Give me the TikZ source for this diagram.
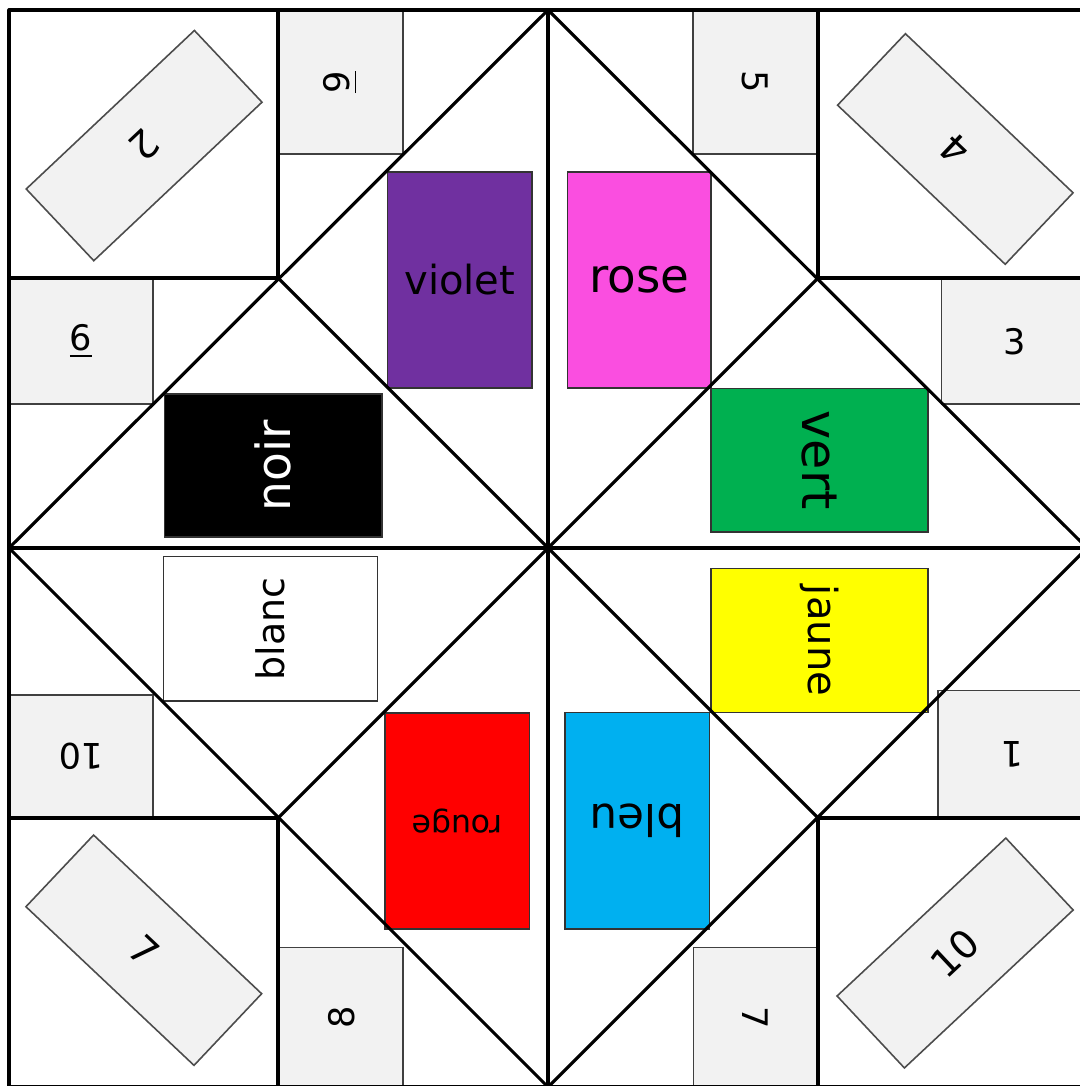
\documentclass[tikz,border=0pt]{standalone}
\usepackage{fontspec}
\setmainfont{DejaVu Sans}
\definecolor{cviolet}{HTML}{7030A0}
\definecolor{crose}{HTML}{FA4EE0}
\definecolor{cvert}{HTML}{00B050}
\definecolor{cjaune}{HTML}{FFFF00}
\definecolor{cbleu}{HTML}{00B0F0}
\definecolor{crouge}{HTML}{FF0000}
\definecolor{paper}{HTML}{F2F2F2}
\newcommand{\fsz}[1]{\fontsize{#1}{#1}\selectfont}

\begin{document}
\begin{tikzpicture}[x=0.01cm, y=-0.01cm,
    fold/.style={line width=0.9pt, line join=round},
    numbox/.style={draw=black!75, line width=0.45pt, fill=paper, inner sep=0pt, font=\fsz{10}},
    tagbox/.style={draw=black!70, line width=0.45pt, fill=paper, inner sep=0pt,
      minimum width=2.31cm, minimum height=0.985cm, font=\fsz{11}},
    colbox/.style={draw=black!80, line width=0.4pt, inner sep=0pt}]
  \useasboundingbox (0,0) rectangle (1079,1086);

  % colour flaps
  \node[colbox, fill=cviolet, minimum width=1.445cm, minimum height=2.16cm, font=\fsz{11.4}] (violet) at (459.75,280) {violet};
  \node[colbox, fill=crose, minimum width=1.435cm, minimum height=2.16cm, font=\fsz{13.3}] (rose) at (639.25,280) {rose};
  \node[colbox, fill=cvert, rotate=-90, minimum width=1.435cm, minimum height=2.17cm, font=\fsz{14}] (vert) at (819.5,460.25) {vert};
  \node[colbox, fill=cjaune, rotate=-90, minimum width=1.44cm, minimum height=2.17cm, font=\fsz{11.4}] (jaune) at (819.5,640.5) {jaune};
  \node[colbox, fill=cbleu, rotate=180, minimum width=1.445cm, minimum height=2.165cm, font=\fsz{12.4}] (bleu) at (637.25,820.75) {bleu};
  \node[colbox, fill=crouge, rotate=180, minimum width=1.445cm, minimum height=2.16cm, font=\fsz{9}] (rouge) at (457.25,821) {rouge};
  \node[colbox, fill=white, rotate=90, minimum width=1.445cm, minimum height=2.14cm, font=\fsz{10.8}] (blanc) at (270.5,628.75) {blanc};
  \node[colbox, fill=black, text=white, rotate=90, minimum width=1.43cm, minimum height=2.175cm, font=\fsz{13.4}] (noir) at (273.25,465.5) {noir};

  % number squares
  \node[numbox, rotate=90, minimum width=1.44cm, minimum height=1.25cm] (n9) at (340.5,82) {\underline{9}};
  \node[numbox, rotate=-90, minimum width=1.44cm, minimum height=1.25cm] (n5) at (755.5,82) {5};
  \node[numbox, minimum width=1.44cm, minimum height=1.25cm] (n6) at (81,341.5) {\underline{6}};
  \node[numbox, minimum width=1.455cm, minimum height=1.25cm] (n3) at (1014.25,341.5) {3};
  \node[numbox, rotate=180, minimum width=1.44cm, minimum height=1.23cm] (n10) at (81,756.5) {10};
  \node[numbox, rotate=180, minimum width=1.49cm, minimum height=1.275cm] (n1) at (1012.5,754.25) {1};
  \node[numbox, rotate=90, minimum width=1.395cm, minimum height=1.235cm] (n8) at (341.25,1017.25) {8};
  \node[numbox, rotate=-90, minimum width=1.395cm, minimum height=1.245cm] (n7) at (755.75,1017.25) {7};

  % corner tags
  \node[tagbox, rotate=-136.7] (c2) at (144.1,145.6) {2};
  \node[tagbox, rotate=136.5] (c4) at (955.3,149) {4};
  \node[tagbox, rotate=-43.35] (c7) at (143.8,950.2) {7};
  \node[tagbox, rotate=43.1] (c10) at (955.1,953) {10};

  % folds
  \draw[fold] (9,10) rectangle (1087,1087);
  \draw[fold] (548,10) -- (548,1087);
  \draw[fold] (9,548) -- (1087,548);
  \draw[fold] (548,10) -- (1087,548) -- (548,1087) -- (9,548) -- cycle;
  \draw[fold] (278,278) -- (818,818);
  \draw[fold] (818,278) -- (278,818);
  \draw[fold] (278,10) -- (278,278) -- (9,278);
  \draw[fold] (818,10) -- (818,278) -- (1087,278);
  \draw[fold] (9,818) -- (278,818) -- (278,1087);
  \draw[fold] (1087,818) -- (818,818) -- (818,1087);
\end{tikzpicture}
\end{document}
